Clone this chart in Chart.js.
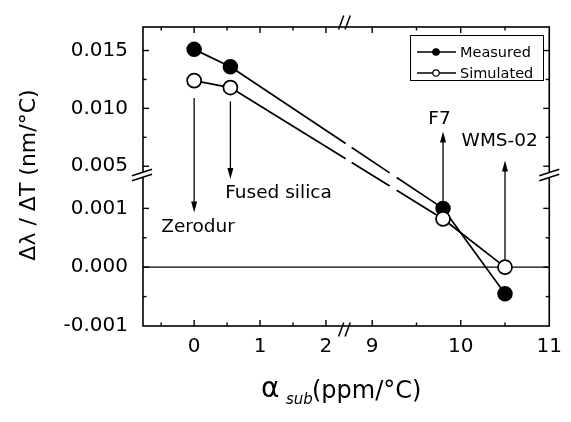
<!DOCTYPE html>
<html>
<head>
<meta charset="utf-8">
<script src="https://cdn.jsdelivr.net/npm/chart.js@4/dist/chart.umd.min.js"></script>
<style>
  html, body { margin: 0; padding: 0; background: #fff; }
</style>
</head>
<body>
<canvas id="chart" width="571" height="422"></canvas>
<script>
// substrate expansion coefficient (ppm/°C) and wavelength drift (nm/°C)
const materials = ["Zerodur", "Fused silica", "F7", "WMS-02"];
const alphaSub = [0, 0.55, 9.8, 10.5];
const measured = [0.0151, 0.0136, 0.0010, -0.00045];
const simulated = [0.0124, 0.0118, 0.00082, 0.0000];

const xMajor = [0, 1, 2, 9, 10, 11];
const xMinor = [-0.5, 0.5, 1.5, 9.5, 10.5];
const yMajor = [-0.001, 0, 0.001, 0.005, 0.010, 0.015];
const yMinor = [-0.0005, 0.0005, 0.0075, 0.0125];

// arrows next to each material (data units)
const arrowFrom = [0.0109, 0.0106, 0.0011, 0.00013];
const arrowTo = [0.00093, 0.0015, 0.0080, 0.0055];
const labelX = [0.06, 1.28, 9.76, 10.44];
const labelY = [0.00068, 0.00125, 0.0091, 0.0072];

// both axes are broken in two pieces
const pieces = {
    x: [{ from: -0.776, to: 2.284, start: 0, end: 0.4964 }, { from: 8.689, to: 11, start: 0.4964, end: 1 }],
    y: [{ from: -0.001, to: 0.001567, start: 0, end: 0.5049 }, { from: 0.004237, to: 0.017034, start: 0.5049, end: 1 }]
};

class BrokenScale extends Chart.LinearScale {
    static id = "broken";

    buildTicks() {
        const vals = this.id === "x" ? xMajor.concat(xMinor) : yMajor.concat(yMinor);
        return vals.sort((a, b) => a - b).map(v => ({ value: v }));
    }

    getPixelForValue(value) {
        const segs = pieces[this.id];
        const s = value < (segs[0].to + segs[1].from) / 2 ? segs[0] : segs[1];
        const dec = s.start + (value - s.from) / (s.to - s.from) * (s.end - s.start);
        return this.getPixelForDecimal(dec);
    }

    getValueForPixel(pixel) {
        const dec = this.getDecimalForPixel(pixel);
        const segs = pieces[this.id];
        const s = dec < segs[0].end ? segs[0] : segs[1];
        return s.from + (dec - s.start) / (s.end - s.start) * (s.to - s.from);
    }
}
Chart.register(BrokenScale);

function breakPixel(scale, axis) {
    const f = pieces[axis][0].end;
    return axis === "x" ? scale.left + f * scale.width : scale.bottom - f * scale.height;
}

// long segment crossing the break: solid - gap - dash - gap - solid
function breakDash(ctx) {
    if (ctx.p0DataIndex !== 1) return [];
    const p0 = ctx.p0, p1 = ctx.p1;
    const dx = p1.x - p0.x, dy = p1.y - p0.y;
    const k = Math.sqrt(dx * dx + dy * dy) / dx;
    const xb = breakPixel(ctx.chart.scales.x, "x");
    return [(xb + 1 - p0.x) * k, 6 * k, 38 * k, 7 * k, 2000];
}

function line(ctx, x0, y0, x1, y1) {
    ctx.beginPath();
    ctx.moveTo(x0, y0);
    ctx.lineTo(x1, y1);
    ctx.stroke();
}

const decorations = {
    id: "decorations",
    beforeDatasetsDraw(chart) {
        const { ctx, chartArea: a, scales: { y } } = chart;
        const y0 = y.getPixelForValue(0);
        ctx.save();
        ctx.strokeStyle = "#000";
        ctx.lineWidth = 1.2;
        line(ctx, a.left, y0, a.right, y0);
        ctx.restore();
    },
    afterDraw(chart) {
        const { ctx, chartArea: a, scales: { x, y } } = chart;
        ctx.save();
        ctx.strokeStyle = "#000";
        ctx.fillStyle = "#000";

        // frame
        ctx.lineWidth = 1.6;
        ctx.strokeRect(a.left, a.top, a.right - a.left, a.bottom - a.top);

        // inward ticks on all four sides
        ctx.lineWidth = 1.4;
        xMajor.concat(xMinor).forEach(v => {
            const px = x.getPixelForValue(v);
            if (px <= a.left + 1 || px >= a.right - 1) return;
            const len = xMajor.includes(v) ? 6 : 3.5;
            line(ctx, px, a.bottom, px, a.bottom - len);
            line(ctx, px, a.top, px, a.top + len);
        });
        yMajor.concat(yMinor).forEach(v => {
            const py = y.getPixelForValue(v);
            if (py <= a.top + 1 || py >= a.bottom - 1) return;
            const len = yMajor.includes(v) ? 6 : 3.5;
            line(ctx, a.left, py, a.left + len, py);
            line(ctx, a.right, py, a.right - len, py);
        });

        // axis break marks
        const xb = breakPixel(x, "x");
        const yb = breakPixel(y, "y");
        ctx.lineWidth = 1.5;
        [[a.top - 4.5], [a.bottom + 3.5]].forEach(([cy]) => {
            [-3.5, 3].forEach(off => {
                line(ctx, xb + off - 2.6, cy + 7, xb + off + 2.6, cy - 7);
            });
        });
        [a.left - 1, a.right].forEach(cx => {
            ctx.fillStyle = "#fff";
            ctx.beginPath();
            ctx.moveTo(cx - 3, yb + 3.4);
            ctx.lineTo(cx + 3, yb + 1.4);
            ctx.lineTo(cx + 3, yb - 3.6);
            ctx.lineTo(cx - 3, yb - 1.6);
            ctx.closePath();
            ctx.fill();
            [-2.5, 2.5].forEach(off => {
                line(ctx, cx - 10, yb + off + 3.3, cx + 10, yb + off - 3.3);
            });
        });
        ctx.fillStyle = "#000";

        // arrows and material names
        ctx.lineWidth = 1.3;
        alphaSub.forEach((v, i) => {
            const px = x.getPixelForValue(v);
            const yA = y.getPixelForValue(arrowFrom[i]);
            const yT = y.getPixelForValue(arrowTo[i]);
            const dir = yT > yA ? 1 : -1;
            line(ctx, px, yA, px, yT - dir * 8);
            ctx.beginPath();
            ctx.moveTo(px, yT);
            ctx.lineTo(px - 3, yT - dir * 11);
            ctx.lineTo(px + 3, yT - dir * 11);
            ctx.closePath();
            ctx.fill();
        });
        ctx.font = "18.5px 'DejaVu Sans'";
        ctx.textAlign = "center";
        ctx.textBaseline = "middle";
        materials.forEach((m, i) => {
            ctx.fillText(m, x.getPixelForValue(labelX[i]), y.getPixelForValue(labelY[i]));
        });

        // legend box
        ctx.lineWidth = 1;
        ctx.strokeRect(410.5, 35.5, 133, 45);
        ctx.font = "14.5px 'DejaVu Sans'";
        ctx.textAlign = "left";
        chart.data.datasets.forEach((ds, i) => {
            const ly = 52 + i * 21;
            ctx.lineWidth = 1.5;
            line(ctx, 417, ly, 456, ly);
            ctx.beginPath();
            ctx.arc(436, ly, 3.2, 0, Math.PI * 2);
            ctx.fillStyle = ds.pointBackgroundColor;
            ctx.fill();
            ctx.lineWidth = 1.2;
            ctx.stroke();
            ctx.fillStyle = "#000";
            ctx.fillText(ds.label, 460, ly + 1);
        });

        // axis titles
        ctx.save();
        ctx.translate(29, 175);
        ctx.rotate(-Math.PI / 2);
        ctx.textAlign = "center";
        ctx.textBaseline = "middle";
        ctx.font = "22px 'DejaVu Sans'";
        ctx.fillText("\u0394\u03bb / \u0394T (nm/\u00b0C)", 0, 0);
        ctx.restore();

        ctx.textAlign = "left";
        ctx.textBaseline = "alphabetic";
        ctx.font = "28px 'DejaVu Sans'";
        ctx.fillText("\u03b1", 261, 397);
        ctx.font = "italic 15px 'DejaVu Sans'";
        ctx.fillText("sub", 286, 404);
        ctx.font = "24px 'DejaVu Sans'";
        ctx.fillText("(ppm/\u00b0C)", 312, 398);
        ctx.restore();
    }
};

new Chart(document.getElementById("chart"), {
    type: "line",
    data: {
        datasets: [{
            label: "Measured",
            data: alphaSub.map((v, i) => ({ x: v, y: measured[i] })),
            borderColor: "#000",
            backgroundColor: "#000",
            pointBackgroundColor: "#000",
            pointBorderColor: "#000",
            borderWidth: 1.7,
            pointRadius: 7,
            pointBorderWidth: 1.5,
            order: 2,
            segment: { borderDash: breakDash }
        }, {
            label: "Simulated",
            data: alphaSub.map((v, i) => ({ x: v, y: simulated[i] })),
            borderColor: "#000",
            backgroundColor: "#fff",
            pointBackgroundColor: "#fff",
            pointBorderColor: "#000",
            borderWidth: 1.7,
            pointRadius: 7,
            pointBorderWidth: 1.7,
            order: 1,
            segment: { borderDash: breakDash }
        }]
    },
    options: {
        responsive: false,
        animation: false,
        events: [],
        layout: { padding: { left: 0, top: 21, right: 15, bottom: 0 } },
        plugins: { legend: { display: false }, tooltip: { enabled: false } },
        scales: {
            x: {
                type: "broken",
                min: -0.776,
                max: 11,
                grid: { display: false, drawTicks: false },
                border: { display: false },
                ticks: {
                    autoSkip: false,
                    maxRotation: 0,
                    padding: 9,
                    color: "#000",
                    font: { family: "DejaVu Sans", size: 20 },
                    callback: v => xMajor.includes(v) ? String(v) : ""
                },
                afterFit: s => { s.height = 96; }
            },
            y: {
                type: "broken",
                min: -0.001,
                max: 0.017034,
                grid: { display: false, drawTicks: false },
                border: { display: false },
                ticks: {
                    autoSkip: false,
                    padding: 15,
                    color: "#000",
                    font: { family: "DejaVu Sans", size: 20 },
                    callback: v => yMajor.includes(v) ? v.toFixed(3) : ""
                },
                afterFit: s => { s.width = 143; }
            }
        }
    },
    plugins: [decorations]
});
</script>
</body>
</html>
